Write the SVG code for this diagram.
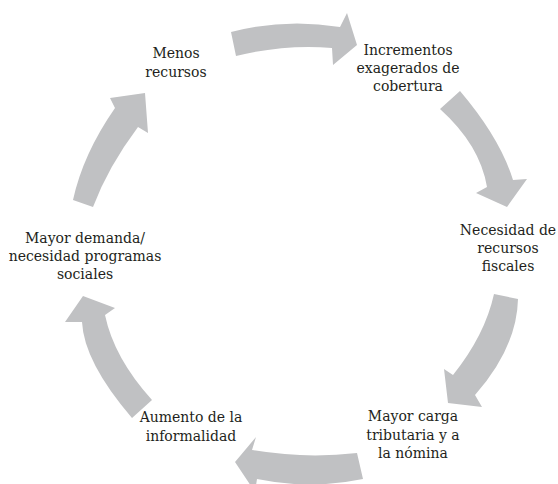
<svg xmlns="http://www.w3.org/2000/svg" width="558" height="484" viewBox="0 0 558 484">
<style>
.arrow{fill:#c0c1c3;stroke:none}
.lbl{font-family:"DejaVu Serif","Liberation Serif",serif;font-size:14px;fill:#231f20;text-anchor:middle}
</style>
<rect width="558" height="484" fill="#ffffff"/>
<g id="connectors">
<path class="arrow" d="M231,32 Q285,18 340,27 L347,13 L357,45 L333,65 L332,48 Q285,44 236,56 Z"/>
<path class="arrow" d="M440,109 L460,91 Q500,138 513,180 L527,179 L507,207 L476,193 L487,187 Q480,145 440,109 Z"/>
<path class="arrow" d="M494,294 L518,299 Q517,347 475,395 L482,407 L448,403 L444,369 L453,375 Q485,335 494,294 Z"/>
<path class="arrow" d="M357,453 Q305,459 252,450 L256,437 L235,462 L255,492 L257,479 Q310,490 363,479 Z"/>
<path class="arrow" d="M152,400 L132,418 Q84,362 82,322 L65,322 L83,296 L115,308 L105,315 Q114,358 152,400 Z"/>
<path class="arrow" d="M93,207 L73,200 Q83,154 115,108 L110,98 L145,93 L148,133 L138,127 Q108,167 93,207 Z"/>
</g>
<g id="node-menos">
<text class="lbl" x="176" y="58">Menos</text>
<text class="lbl" x="176" y="77">recursos</text>
</g>
<g id="node-incrementos">
<text class="lbl" x="408" y="55">Incrementos</text>
<text class="lbl" x="408" y="73">exagerados de</text>
<text class="lbl" x="408" y="91">cobertura</text>
</g>
<g id="node-necesidad">
<text class="lbl" x="508" y="235">Necesidad de</text>
<text class="lbl" x="508" y="253">recursos</text>
<text class="lbl" x="508" y="271">fiscales</text>
</g>
<g id="node-carga">
<text class="lbl" x="413" y="421">Mayor carga</text>
<text class="lbl" x="413" y="440">tributaria y a</text>
<text class="lbl" x="413" y="458">la nómina</text>
</g>
<g id="node-informalidad">
<text class="lbl" x="191" y="422">Aumento de la</text>
<text class="lbl" x="191" y="441">informalidad</text>
</g>
<g id="node-demanda">
<text class="lbl" x="85" y="243">Mayor demanda/</text>
<text class="lbl" x="85" y="261">necesidad programas</text>
<text class="lbl" x="85" y="279">sociales</text>
</g>
</svg>
